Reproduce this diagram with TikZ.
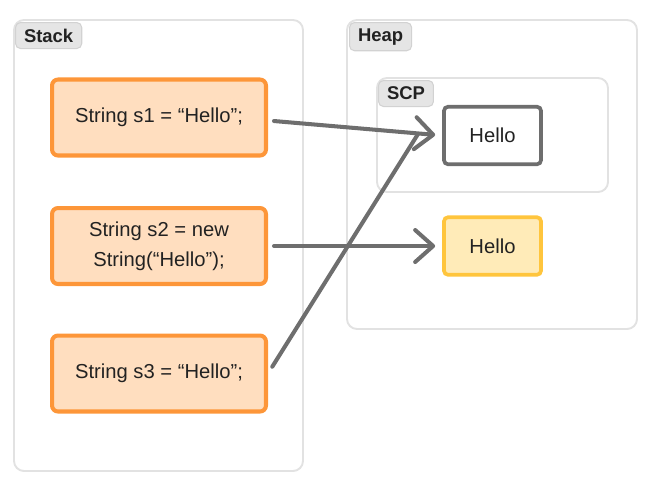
\documentclass[tikz,border=0pt]{standalone}
\usepackage{fontspec}
\setmainfont{Liberation Sans}
\usetikzlibrary{arrows.meta}
\definecolor{boxline}{HTML}{FD9639}
\definecolor{boxfill}{HTML}{FFDEBF}
\definecolor{newline}{HTML}{FFC53D}
\definecolor{newfill}{HTML}{FFEBB8}
\definecolor{linkgray}{HTML}{6E6E6E}
\definecolor{arealine}{HTML}{E2E2E2}
\definecolor{tabfill}{HTML}{E5E5E5}
\definecolor{tabline}{HTML}{D2D2D2}
\definecolor{ink}{HTML}{222222}

\begin{document}
\begin{tikzpicture}[x=0.02cm,y=-0.02cm,
        area/.style={draw=arealine,line width=1.1pt,rounded corners=0.2cm},
        tab/.style={draw=tabline,fill=tabfill,line width=0.6pt,rounded corners=0.1cm,anchor=north west,
            font=\fontsize{10.5}{12}\selectfont\bfseries,text=ink,inner xsep=0.17cm,minimum height=0.52cm},
        varbox/.style={draw=boxline,fill=boxfill,line width=2.3pt,rounded corners=0.12cm,
            minimum width=4.28cm,minimum height=1.52cm,align=center,text=ink,
            font=\fontsize{11.5}{17}\selectfont},
        strbox/.style={line width=2.1pt,rounded corners=0.08cm,minimum width=1.94cm,minimum height=1.15cm,
            text=ink,font=\fontsize{11.5}{14}\selectfont},
        link/.style={draw=linkgray,line width=2.3pt,line cap=round,shorten <=0.12cm},
        tip/.style={-{Straight Barb[length=3.6mm,width=6.4mm,round]},shorten >=0.14cm}]
    \useasboundingbox (0,0) rectangle (651,485);

    \draw[area] (14,20) rectangle (303,471);
    \draw[area] (347,20) rectangle (637,329);
    \draw[area] (377,78) rectangle (608,192);
    \node[tab] (stack) at (15,22) {Stack};
    \node[tab] (heap) at (349,22) {Heap};
    \node[tab] (scp) at (378,80) {SCP};

    \node[varbox] (s1) at (159,117.5) {String s1 = “Hello”;};
    \node[varbox] (s2) at (159,246) {String s2 = new\\String(“Hello”);};
    \node[varbox] (s3) at (159,373.5) {String s3 = “Hello”;};

    \node[strbox,draw=linkgray,fill=white] (h1) at (492.5,135.5) {Hello};
    \node[strbox,draw=newline,fill=newfill] (h2) at (492.5,246) {Hello};
    \coordinate (merge) at (418,134);

    \draw[link,tip] ([yshift=-0.06cm]s1.east) -- (h1.west);
    \draw[link,tip] (s2.east) -- (h2.west);
    \draw[link,shorten <=0.16cm] (s3.east) -- (merge);
\end{tikzpicture}
\end{document}
